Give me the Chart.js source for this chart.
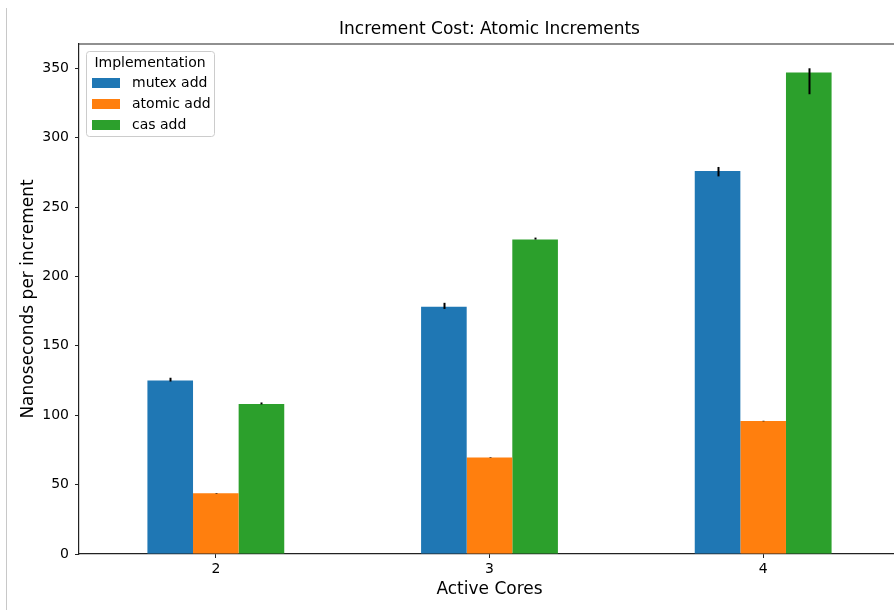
<!DOCTYPE html>
<html>
<head>
<meta charset="utf-8">
<script src="https://cdn.jsdelivr.net/npm/chart.js@4/dist/chart.umd.min.js"></script>
<style>
  html, body { margin: 0; padding: 0; background: #fff; overflow: hidden; }
  #wrap { position: relative; width: 900px; height: 610px; }
  #edge { position: absolute; left: 6px; top: 8px; width: 1px; height: 602px; background: #c8c8c8; }
  canvas { position: absolute; left: 0; top: 0; }
</style>
</head>
<body>
<div id="wrap">
  <div id="edge"></div>
  <canvas id="chart" width="900" height="610"></canvas>
</div>
<script>
// Active core counts along the x axis
const cores = ['2', '3', '4'];

// Mean cost per increment (ns)
const mutexAdd  = [125.0, 178.1, 276.0];
const atomicAdd = [43.7, 69.5, 95.8];
const casAdd    = [108.0, 226.6, 346.9];

// Error bar extents (low / high, ns)
const mutexLow  = [124.3, 176.6, 272.1];
const mutexHigh = [127.0, 181.0, 278.9];
const atomicLow  = [43.5, 69.3, 95.6];
const atomicHigh = [43.9, 69.7, 96.0];
const casLow  = [107.8, 226.6, 331.3];
const casHigh = [109.2, 228.0, 350.0];

// Series names and y tick values
const seriesNames = ['mutex add', 'atomic add', 'cas add'];
const yTicks = [0, 50, 100, 150, 200, 250, 300, 350];

const colors = ['#1f77b4', '#ff7f0e', '#2ca02c'];
const FONT = "'DejaVu Sans', sans-serif";

const errLow = [mutexLow, atomicLow, casLow];
const errHigh = [mutexHigh, atomicHigh, casHigh];

// Draws error bars, frame top line, titles and the legend box
const decorations = {
  id: 'decorations',
  afterDatasetsDraw(chart) {
    const ctx = chart.ctx;
    const y = chart.scales.y;
    ctx.save();
    ctx.strokeStyle = '#000';
    ctx.lineWidth = 2;
    chart.data.datasets.forEach((ds, i) => {
      const meta = chart.getDatasetMeta(i);
      meta.data.forEach((el, j) => {
        const x = Math.round(el.x) + 0.5;
        ctx.beginPath();
        ctx.moveTo(x, y.getPixelForValue(errLow[i][j]));
        ctx.lineTo(x, y.getPixelForValue(errHigh[i][j]));
        ctx.stroke();
      });
    });
    ctx.restore();
  },
  afterDraw(chart) {
    const ctx = chart.ctx;
    const a = chart.chartArea;
    ctx.save();
    // top frame line
    ctx.strokeStyle = '#222';
    ctx.lineWidth = 1.2;
    ctx.beginPath();
    ctx.moveTo(a.left, a.top);
    ctx.lineTo(a.right, a.top);
    ctx.stroke();

    // titles
    ctx.fillStyle = '#000';
    ctx.textAlign = 'center';
    ctx.textBaseline = 'middle';
    ctx.font = '17px ' + FONT;
    const cx = (a.left + a.right) / 2;
    ctx.fillText('Increment Cost: Atomic Increments', cx, 30);
    ctx.fillText('Active Cores', cx, 590);
    ctx.save();
    ctx.translate(29, (a.top + a.bottom) / 2);
    ctx.rotate(-Math.PI / 2);
    ctx.fillText('Nanoseconds per increment', 0, 0);
    ctx.restore();

    // legend box
    const bx = 86.5, by = 51.5, bw = 128, bh = 85, r = 3;
    ctx.beginPath();
    ctx.moveTo(bx + r, by);
    ctx.arcTo(bx + bw, by, bx + bw, by + bh, r);
    ctx.arcTo(bx + bw, by + bh, bx, by + bh, r);
    ctx.arcTo(bx, by + bh, bx, by, r);
    ctx.arcTo(bx, by, bx + bw, by, r);
    ctx.closePath();
    ctx.fillStyle = 'rgba(255,255,255,0.8)';
    ctx.fill();
    ctx.strokeStyle = '#cccccc';
    ctx.lineWidth = 1;
    ctx.stroke();

    ctx.font = '14px ' + FONT;
    ctx.fillStyle = '#000';
    ctx.textAlign = 'center';
    ctx.fillText('Implementation', 150, 63);
    ctx.textAlign = 'left';
    chart.data.datasets.forEach((ds, i) => {
      const ry = 83 + i * 21;
      ctx.fillStyle = ds.backgroundColor;
      ctx.fillRect(92, ry - 5, 28, 10);
      ctx.fillStyle = '#000';
      ctx.fillText(ds.label, 132, ry);
    });
    ctx.restore();
  }
};

const datasets = [mutexAdd, atomicAdd, casAdd].map((vals, i) => ({
  label: seriesNames[i],
  data: vals,
  backgroundColor: colors[i],
  borderWidth: 0,
  barPercentage: 1.0,
  categoryPercentage: 0.5
}));

new Chart(document.getElementById('chart'), {
  type: 'bar',
  data: { labels: cores, datasets },
  options: {
    responsive: false,
    animation: false,
    layout: { padding: { top: 44, right: 0, left: 0, bottom: 0 } },
    plugins: { legend: { display: false }, title: { display: false }, tooltip: { enabled: false } },
    scales: {
      x: {
        type: 'category',
        offset: true,
        grid: { offset: false, drawOnChartArea: false, drawTicks: true, tickLength: 4, color: '#222', lineWidth: 1 },
        border: { display: true, color: '#222', width: 1.2 },
        ticks: { color: '#000', font: { family: FONT, size: 14 }, padding: 3, maxRotation: 0 },
        afterFit(s) { s.height = 56; }
      },
      y: {
        min: 0,
        max: 367.5,
        grid: { drawOnChartArea: false, drawTicks: true, tickLength: 4, color: '#222', lineWidth: 1 },
        border: { display: true, color: '#222', width: 1.2 },
        ticks: { color: '#000', font: { family: FONT, size: 14 }, padding: 6 },
        afterBuildTicks(s) { s.ticks = yTicks.map(v => ({ value: v })); },
        afterFit(s) { s.width = 79; }
      }
    }
  },
  plugins: [decorations]
});
</script>
</body>
</html>
